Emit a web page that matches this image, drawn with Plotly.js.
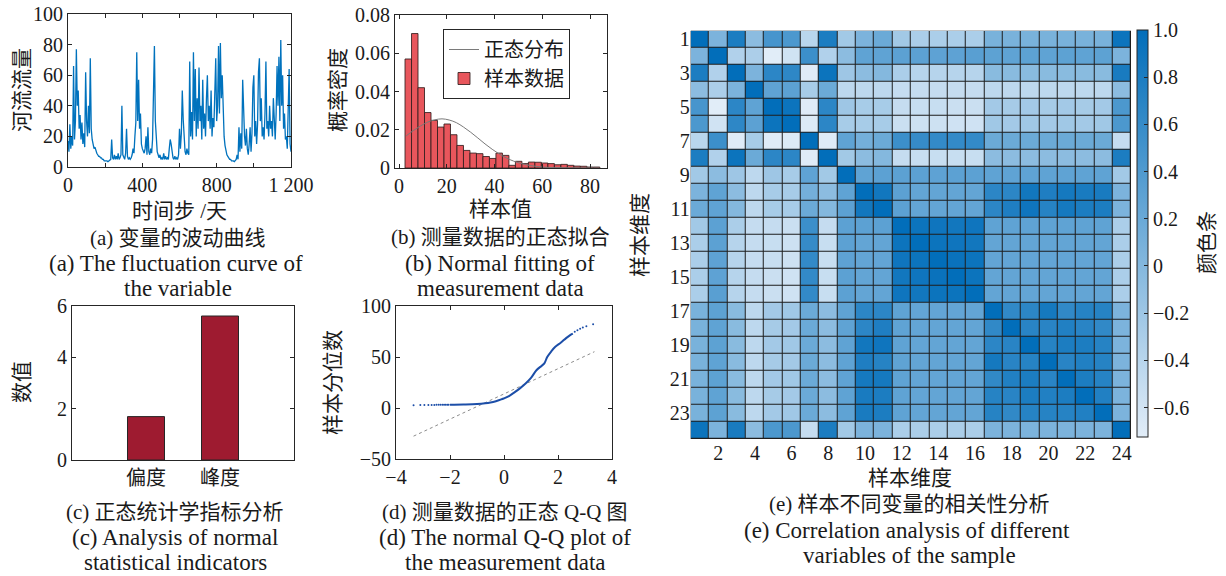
<!DOCTYPE html>
<html>
<head>
<meta charset="utf-8">
<script src="https://cdn.plot.ly/plotly-3.0.1.min.js"></script>
<style>
  html, body { margin: 0; padding: 0; background: #fff; }
  #fig { width: 1226px; height: 576px; }
</style>
</head>
<body>
<div id="fig"></div>
<script>
// ---------- (a) river flow, sampled every 5 days ----------
const flowStepDays = 5;
const riverFlow = [
  17,10,28,12,20,14,66,18,30,77, 40,50,25,34,18,29,15,22,13,62,
  30,20,40,22,71,25,18,14,12,13, 10,9,8,7,7,6,6,5,5,4,
  4,4,4,3.5,4,4,5,18,6,5, 8,5,7,5,9,5,6,8,40,8,
  6,5,9,25,7,5,6,5,6,8, 12,9,20,29,75,30,57,25,35,15,
  12,10,9,12,20,8,26,10,8,12, 9,18,45,79,30,15,10,8,6,8,
  5,6,5,9,5,7,5,6,5,12, 18,15,8,6,5,7,5,6,5,8,
  25,12,22,50,31,15,10,8,12,9, 8,69,20,36,18,75,30,64,20,45,
  25,65,30,40,18,57,25,35,20,45, 60,30,40,25,50,20,32,26,45,71,
  30,40,79,35,81,45,60,30,20,14, 10,8,7,6,5,5,4,4,4,3.5,
  4,5,8,5,26,10,22,12,57,30, 20,14,25,12,8,15,26,10,22,52,
  60,20,30,15,28,62,71,30,45,20, 26,18,35,69,25,30,20,40,25,30,
  20,45,28,18,35,66,40,72,30,83, 40,60,25,35,18,20,12,40,64,15,
  10
];
const flowTickVals = [0, 200, 400, 600, 800, 1000, 1200];
const flowTickText = ['0', '', '400', '', '800', '', '1 200'];

// ---------- (b) histogram of the sample and fitted normal density ----------
const histCenters = [3.86, 6.58, 9.30, 12.02, 14.74, 17.46, 20.18, 22.90, 25.62, 28.34,
                     31.06, 33.78, 36.50, 39.22, 41.94, 44.66, 47.38, 50.10, 52.82, 55.54,
                     58.26, 60.98, 63.70, 66.42, 69.14, 71.86, 74.58, 77.30, 80.02, 82.74];
const histDensity = [0.057, 0.0703, 0.042, 0.029, 0.0249, 0.0214, 0.023, 0.0174, 0.0118, 0.0092,
                     0.0078, 0.0075, 0.006, 0.005, 0.0078, 0.0066, 0.0014, 0.0035, 0.0023, 0.0031,
                     0.003, 0.0026, 0.0023, 0.0017, 0.0019, 0.0014, 0.001, 0.0009, 0.0005, 0.0005];
const histBinWidth = 2.72;
const normX = [3, 6, 9, 12, 15, 18, 21, 24, 27, 30, 33, 36, 39, 42, 45, 48, 51, 55, 60, 65, 70, 75, 80, 84];
const normY = [0.0168, 0.0196, 0.0220, 0.0240, 0.0252, 0.0257, 0.0251, 0.0237, 0.0214, 0.0187,
               0.0157, 0.0126, 0.0098, 0.0073, 0.0052, 0.0036, 0.0024, 0.0013, 0.0005, 0.0002,
               0.0001, 0.00003, 0.00001, 0];

// ---------- (c) skewness and kurtosis ----------
const statNames = ['偏度', '峰度'];
const statValues = [1.69, 5.61];

// ---------- (d) normal Q-Q plot ----------
const qqX = [-2.0, -1.5, -1.0, -0.7, -0.5, -0.3, -0.1, 0, 0.2, 0.4, 0.6, 0.8, 1.0, 1.2, 1.4, 1.5,
             1.6, 1.75, 1.9, 2.1, 2.3, 2.45, 2.55];
const qqY = [3.3, 3.5, 3.9, 4.6, 5.4, 6.7, 8.4, 9.5, 12, 15.5, 19.5, 24, 29.5, 37, 41.5, 44,
             50, 55.5, 60, 64, 68.5, 71.5, 73];
const qqTailX = [-3.35, -3.1, -2.95, -2.8, -2.68, -2.58, -2.5, -2.42, -2.35, -2.28, -2.22, -2.16, -2.1, -2.05,
                 2.62, 2.72, 2.82, 2.92, 3.05, 3.3];
const qqTailY = [2.8, 2.9, 2.9, 3.0, 3.0, 3.0, 3.1, 3.1, 3.1, 3.2, 3.2, 3.2, 3.3, 3.3,
                 74.8, 76.3, 77.7, 79.0, 80.2, 82];
const qqRefX = [-3.35, 3.35];
const qqRefY = [-27.6, 55.2];

// ---------- (e) correlation matrix of the 24 sample dimensions ----------
const dims = [1, 2, 3, 4, 5, 6, 7, 8, 9, 10, 11, 12, 13, 14, 15, 16, 17, 18, 19, 20, 21, 22, 23, 24];
const corr = [
  [1.00, 0.06, 0.80,-0.06, 0.47, 0.43,-0.41, 0.80,-0.23, 0.06, 0.19,-0.23,-0.30,-0.30,-0.30,-0.30, 0.08, 0.08, 0.08, 0.08, 0.08, 0.08, 0.08, 0.92],
  [0.06, 1.00,-0.35,-0.31,-0.72,-0.59, 0.55,-0.35,-0.06, 0.28, 0.28, 0.31, 0.31, 0.29, 0.29, 0.33, 0.30, 0.28, 0.30, 0.28, 0.30, 0.28, 0.30, 0.06],
  [0.80,-0.35, 1.00, 0.06, 0.68, 0.66,-0.70, 0.92,-0.20,-0.06, 0.00,-0.30,-0.39,-0.39,-0.39,-0.39,-0.04,-0.04,-0.04,-0.04,-0.04,-0.04,-0.04, 0.82],
  [-0.06,-0.31, 0.06, 1.00, 0.28, 0.31,-0.27, 0.19,-0.44,-0.44,-0.44,-0.50,-0.50,-0.50,-0.50,-0.50,-0.44,-0.44,-0.44,-0.44,-0.44,-0.44,-0.44,-0.06],
  [0.47,-0.72, 0.68, 0.28, 1.00, 0.92,-0.70, 0.68,-0.20,-0.27,-0.27,-0.50,-0.52,-0.52,-0.54,-0.54,-0.24,-0.26,-0.24,-0.26,-0.24,-0.26,-0.24, 0.43],
  [0.43,-0.59, 0.66, 0.31, 0.92, 1.00,-0.68, 0.68,-0.27,-0.27,-0.27,-0.54,-0.56,-0.56,-0.58,-0.58,-0.22,-0.24,-0.22,-0.24,-0.22,-0.24,-0.22, 0.43],
  [-0.41, 0.55,-0.70,-0.27,-0.70,-0.68, 1.00,-0.70, 0.28, 0.12, 0.19, 0.55, 0.60, 0.62, 0.62, 0.62, 0.19, 0.19, 0.19, 0.19, 0.19, 0.19, 0.19,-0.50],
  [0.80,-0.35, 0.92, 0.19, 0.68, 0.68,-0.70, 1.00,-0.23,-0.06, 0.00,-0.50,-0.52,-0.52,-0.52,-0.52,-0.06,-0.06,-0.06,-0.06,-0.06,-0.06,-0.06, 0.80],
  [-0.23,-0.06,-0.20,-0.44,-0.20,-0.27, 0.28,-0.23, 1.00, 0.28, 0.31, 0.31, 0.31, 0.29, 0.31, 0.31, 0.28, 0.28, 0.28, 0.28, 0.28, 0.28, 0.28,-0.23],
  [0.06, 0.28,-0.06,-0.44,-0.27,-0.27, 0.12,-0.06, 0.28, 1.00, 0.88, 0.31, 0.25, 0.25, 0.25, 0.25, 0.68, 0.68, 0.88, 0.78, 0.85, 0.82, 0.82, 0.06],
  [0.19, 0.28, 0.00,-0.44,-0.27,-0.27, 0.19, 0.00, 0.31, 0.88, 1.00, 0.31, 0.25, 0.25, 0.25, 0.25, 0.68, 0.78, 0.90, 0.72, 0.85, 0.80, 0.80, 0.06],
  [-0.23, 0.31,-0.30,-0.50,-0.50,-0.54, 0.55,-0.50, 0.31, 0.31, 0.31, 1.00, 0.92, 0.90, 0.88, 0.90, 0.28, 0.28, 0.28, 0.28, 0.28, 0.28, 0.28,-0.30],
  [-0.30, 0.31,-0.39,-0.50,-0.52,-0.56, 0.60,-0.52, 0.31, 0.25, 0.25, 0.92, 1.00, 0.92, 0.90, 0.88, 0.25, 0.25, 0.25, 0.25, 0.25, 0.25, 0.25,-0.30],
  [-0.30, 0.29,-0.39,-0.50,-0.52,-0.56, 0.62,-0.52, 0.29, 0.25, 0.25, 0.90, 0.92, 1.00, 0.94, 0.92, 0.25, 0.25, 0.25, 0.25, 0.25, 0.25, 0.25,-0.30],
  [-0.30, 0.29,-0.39,-0.50,-0.54,-0.58, 0.62,-0.52, 0.31, 0.25, 0.25, 0.88, 0.90, 0.94, 1.00, 0.92, 0.25, 0.25, 0.25, 0.25, 0.25, 0.25, 0.25,-0.30],
  [-0.30, 0.33,-0.39,-0.50,-0.54,-0.58, 0.62,-0.52, 0.31, 0.25, 0.25, 0.90, 0.88, 0.92, 0.92, 1.00, 0.25, 0.25, 0.25, 0.25, 0.25, 0.25, 0.25,-0.30],
  [0.08, 0.30,-0.04,-0.44,-0.24,-0.22, 0.19,-0.06, 0.28, 0.68, 0.68, 0.28, 0.25, 0.25, 0.25, 0.25, 1.00, 0.64, 0.68, 0.85, 0.64, 0.72, 0.72, 0.06],
  [0.08, 0.28,-0.04,-0.44,-0.26,-0.24, 0.19,-0.06, 0.28, 0.68, 0.78, 0.28, 0.25, 0.25, 0.25, 0.25, 0.64, 1.00, 0.70, 0.70, 0.76, 0.70, 0.64, 0.06],
  [0.08, 0.30,-0.04,-0.44,-0.24,-0.22, 0.19,-0.06, 0.28, 0.88, 0.90, 0.28, 0.25, 0.25, 0.25, 0.25, 0.68, 0.70, 1.00, 0.72, 0.80, 0.80, 0.72, 0.06],
  [0.08, 0.28,-0.04,-0.44,-0.26,-0.24, 0.19,-0.06, 0.28, 0.78, 0.72, 0.28, 0.25, 0.25, 0.25, 0.25, 0.85, 0.70, 0.72, 1.00, 0.70, 0.76, 0.72, 0.06],
  [0.08, 0.30,-0.04,-0.44,-0.24,-0.22, 0.19,-0.06, 0.28, 0.85, 0.85, 0.28, 0.25, 0.25, 0.25, 0.25, 0.64, 0.76, 0.80, 0.70, 1.00, 0.80, 0.72, 0.06],
  [0.08, 0.28,-0.04,-0.44,-0.26,-0.24, 0.19,-0.06, 0.28, 0.82, 0.80, 0.28, 0.25, 0.25, 0.25, 0.25, 0.72, 0.70, 0.80, 0.76, 0.80, 1.00, 0.76, 0.06],
  [0.08, 0.30,-0.04,-0.44,-0.24,-0.22, 0.19,-0.06, 0.28, 0.82, 0.80, 0.28, 0.25, 0.25, 0.25, 0.25, 0.72, 0.64, 0.72, 0.72, 0.72, 0.76, 1.00, 0.06],
  [0.92, 0.06, 0.82,-0.06, 0.43, 0.43,-0.50, 0.80,-0.23, 0.06, 0.06,-0.30,-0.30,-0.30,-0.30,-0.30, 0.06, 0.06, 0.06, 0.06, 0.06, 0.06, 0.06, 1.00]
];
const corrTickX = [2, 4, 6, 8, 10, 12, 14, 16, 18, 20, 22, 24];
const corrTickY = [1, 3, 5, 7, 9, 11, 13, 15, 17, 19, 21, 23];
const cbTickVals = [-0.6, -0.4, -0.2, 0, 0.2, 0.4, 0.6, 0.8, 1.0];
const cbTickText = ['\u22120.6', '\u22120.4', '\u22120.2', '0', '0.2', '0.4', '0.6', '0.8', '1.0'];

// ---------- drawing ----------
const W = 1226, H = 576;
const px = v => v / W;           // page pixel -> paper x
const py = v => 1 - v / H;       // page pixel -> paper y
const SERIF = '"Liberation Serif", "Noto Sans CJK SC", serif';
const CJK = '"Noto Sans CJK SC", "Liberation Serif", sans-serif';
const INK = '#1a1a1a';

function boxAxis(extra) {
  return Object.assign({
    showline: true, linecolor: '#262626', linewidth: 1, mirror: 'ticks',
    ticks: 'inside', ticklen: 4, tickcolor: '#262626', tickwidth: 1,
    showgrid: false, zeroline: false, fixedrange: true,
    tickfont: { family: SERIF, size: 20, color: INK }
  }, extra);
}

const flowDays = riverFlow.map((_, i) => i * flowStepDays);

const traces = [
  { type: 'scatter', mode: 'lines', x: flowDays, y: riverFlow, xaxis: 'x', yaxis: 'y',
    line: { color: '#0072bd', width: 1.3 }, showlegend: false, hoverinfo: 'skip' },

  { type: 'bar', name: '样本数据', x: histCenters, y: histDensity, width: histBinWidth,
    xaxis: 'x2', yaxis: 'y2',
    marker: { color: 'rgb(232,86,92)', line: { color: 'rgba(50,30,30,0.85)', width: 1 } },
    showlegend: true },
  { type: 'scatter', mode: 'lines', name: '正态分布', x: normX, y: normY, xaxis: 'x2', yaxis: 'y2',
    line: { color: '#7a7a7a', width: 1, shape: 'spline' }, showlegend: true },

  { type: 'bar', x: statNames, y: statValues, width: 0.5, xaxis: 'x3', yaxis: 'y3',
    marker: { color: 'rgb(158,27,48)', line: { color: '#262626', width: 1 } }, showlegend: false },

  { type: 'scatter', mode: 'lines', x: qqRefX, y: qqRefY, xaxis: 'x4', yaxis: 'y4',
    line: { color: '#8c8c8c', width: 1, dash: 'dot' }, showlegend: false },
  { type: 'scatter', mode: 'lines', x: qqX, y: qqY, xaxis: 'x4', yaxis: 'y4',
    line: { color: 'rgb(28,78,168)', width: 2, shape: 'spline' }, showlegend: false },
  { type: 'scatter', mode: 'markers', x: qqTailX, y: qqTailY, xaxis: 'x4', yaxis: 'y4',
    marker: { color: 'rgb(28,78,168)', size: 2 }, showlegend: false },

  { type: 'heatmap', z: corr, x: dims, y: dims, xaxis: 'x5', yaxis: 'y5',
    zmin: -0.725, zmax: 1.0, xgap: 1, ygap: 1,
    colorscale: [[0, 'rgb(226,237,248)'], [1, 'rgb(2,110,186)']],
    showscale: true,
    colorbar: {
      x: px(1136.5), xanchor: 'left', xref: 'paper',
      y: py(233.5), yanchor: 'middle', yref: 'paper',
      len: (437 - 30) / H, lenmode: 'fraction',
      thickness: 11, thicknessmode: 'pixels', xpad: 0, ypad: 0,
      outlinecolor: '#262626', outlinewidth: 1,
      tickvals: cbTickVals, ticktext: cbTickText,
      ticks: 'inside', ticklen: 4, tickcolor: '#262626',
      tickfont: { family: SERIF, size: 20, color: INK }
    } }
];

function label(text, x, y, size, opts) {
  return Object.assign({
    text: text, x: px(x), y: py(y), xref: 'paper', yref: 'paper',
    xanchor: 'center', yanchor: 'middle', showarrow: false,
    font: { family: SERIF, size: size, color: INK }
  }, opts || {});
}
const vert = { textangle: -90 };
const T = 21;   // axis titles and Chinese caption lines
const E = 23;   // English caption lines

const annotations = [
  label('河流流量', 22, 90, T, vert),
  label('时间步 /天', 179, 211, T),
  label('(a) 变量的波动曲线', 178, 238, T),
  label('(a) The fluctuation curve of', 176, 263, E),
  label('the variable', 178, 288, E),

  label('概率密度', 338, 90, T, vert),
  label('样本值', 500, 209, T),
  label('(b) 测量数据的正态拟合', 500, 237, T),
  label('(b) Normal fitting of', 500, 263, E),
  label('measurement data', 500, 288, E),

  label('数值', 22, 382, T, vert),
  label('(c) 正态统计学指标分析', 175, 512, T),
  label('(c) Analysis of normal', 175, 537, E),
  label('statistical indicators', 175, 562, E),

  label('样本分位数', 333, 383, T, vert),
  label('(d) 测量数据的正态 Q-Q 图', 505, 512, T),
  label('(d) The normal Q-Q plot of', 505, 537, E),
  label('the measurement data', 505, 562, E),

  label('样本维度', 640, 235, T, vert),
  label('样本维度', 910, 478, T),
  label('(e) 样本不同变量的相关性分析', 910, 504, T),
  label('(e) Correlation analysis of different', 907, 530, E),
  label('variables of the sample', 909, 555, E),
  label('颜色条', 1207, 243, T, vert)
];

const layout = {
  width: W, height: H,
  margin: { l: 0, r: 0, t: 0, b: 0, pad: 0 },
  paper_bgcolor: '#fff', plot_bgcolor: '#fff',
  font: { family: SERIF, size: 20, color: INK },
  bargap: 0,
  showlegend: true,
  legend: {
    x: px(443), y: py(29), xanchor: 'left', yanchor: 'top',
    bgcolor: '#fff', bordercolor: '#262626', borderwidth: 1,
    font: { family: CJK, size: 20, color: INK },
    traceorder: 'reversed', itemwidth: 30, tracegroupgap: 0
  },

  xaxis: boxAxis({ domain: [px(68), px(291)], range: [0, 1200], anchor: 'y',
    tickvals: flowTickVals, ticktext: flowTickText }),
  yaxis: boxAxis({ domain: [py(167), py(14)], range: [0, 100], anchor: 'x',
    tickvals: [0, 20, 40, 60, 80, 100] }),

  xaxis2: boxAxis({ domain: [px(395), px(607)], range: [-1.7, 87.1], anchor: 'y2',
    tickvals: [0, 20, 40, 60, 80] }),
  yaxis2: boxAxis({ domain: [py(168), py(15)], range: [0, 0.08], anchor: 'x2',
    tickvals: [0, 0.02, 0.04, 0.06, 0.08], ticktext: ['0', '0.02', '0.04', '0.06', '0.08'] }),

  xaxis3: boxAxis({ domain: [px(72), px(294)], type: 'category', range: [-1, 2], anchor: 'y3',
    ticks: '', tickfont: { family: CJK, size: 20, color: INK } }),
  yaxis3: boxAxis({ domain: [py(460), py(306)], range: [0, 6], anchor: 'x3',
    tickvals: [0, 2, 4, 6] }),

  xaxis4: boxAxis({ domain: [px(396), px(612)], range: [-4, 4], anchor: 'y4',
    tickvals: [-4, -2, 0, 2, 4] }),
  yaxis4: boxAxis({ domain: [py(459), py(306)], range: [-50, 100], anchor: 'x4',
    tickvals: [-50, 0, 50, 100] }),

  xaxis5: { domain: [px(690.7), px(1131)], range: [0.5, 24.5], anchor: 'y5',
    tickvals: corrTickX, ticks: '', showline: false, showgrid: false, zeroline: false,
    fixedrange: true, tickfont: { family: SERIF, size: 20, color: INK } },
  yaxis5: { domain: [py(439), py(30.7)], range: [24.5, 0.5], anchor: 'x5',
    tickvals: corrTickY, ticks: '', showline: false, showgrid: false, zeroline: false,
    fixedrange: true, tickfont: { family: SERIF, size: 20, color: INK } },

  shapes: [
    // dark backing that shows through the cell gaps as grid lines
    { type: 'rect', xref: 'x5', yref: 'y5', x0: 0.5, x1: 24.5, y0: 0.5, y1: 24.5,
      fillcolor: '#1e1e1e', line: { color: '#1e1e1e', width: 1 }, layer: 'below' }
  ],
  annotations: annotations
};

Plotly.newPlot('fig', traces, layout, { staticPlot: true, displayModeBar: false });
</script>
</body>
</html>
